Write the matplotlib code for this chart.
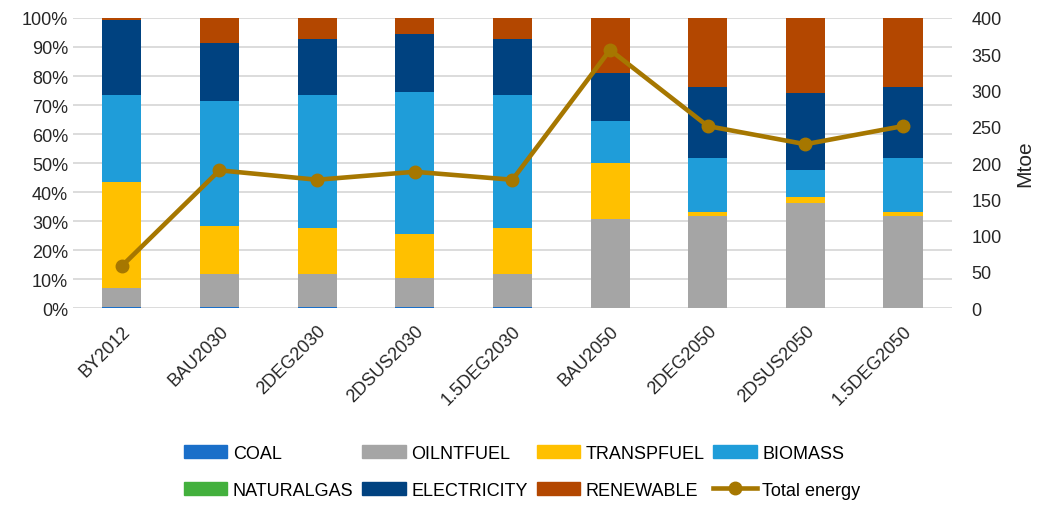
import matplotlib
matplotlib.use('Agg')
import numpy as np
import matplotlib.pyplot as plt
from matplotlib.lines import Line2D
from matplotlib.patches import Patch

scenarios = ["BY2012", "BAU2030", "2DEG2030", "2DSUS2030", "1.5DEG2030",
             "BAU2050", "2DEG2050", "2DSUS2050", "1.5DEG2050"]

# shares in % of total final energy
coal        = [0.4, 0.3, 0.3, 0.4, 0.3, 0.0, 0.0, 0.0, 0.0]
oilntfuel   = [6.5, 11.4, 11.5, 9.9, 11.5, 30.6, 31.7, 36.4, 31.7]
transpfuel  = [36.5, 16.6, 15.8, 15.2, 15.8, 19.4, 1.6, 1.8, 1.6]
biomass     = [29.9, 43.0, 45.7, 49.0, 45.7, 14.4, 18.4, 9.5, 18.4]
naturalgas  = [0.0, 0.0, 0.0, 0.0, 0.0, 0.0, 0.0, 0.0, 0.0]
electricity = [26.1, 20.0, 19.5, 19.9, 19.5, 16.7, 24.6, 26.6, 24.6]
renewable   = [0.6, 8.7, 7.2, 5.6, 7.2, 18.9, 23.7, 25.7, 23.7]

total_energy = [58, 190, 177, 188, 177, 356, 251, 226, 251]  # Mtoe

series = [
    ("COAL", coal, "#1a6fc9"),
    ("OILNTFUEL", oilntfuel, "#a5a5a5"),
    ("TRANSPFUEL", transpfuel, "#ffc000"),
    ("BIOMASS", biomass, "#1f9dd9"),
    ("NATURALGAS", naturalgas, "#43b03d"),
    ("ELECTRICITY", electricity, "#004280"),
    ("RENEWABLE", renewable, "#b34700"),
]
line_color = "#a67700"

plt.rcParams['font.family'] = ['Liberation Sans', 'DejaVu Sans']
plt.rcParams['font.size'] = 13

fig = plt.figure(figsize=(10.38, 5.06), dpi=100)
ax = fig.add_axes([0.0703, 0.389, 0.8467, 0.5735])

x = np.arange(len(scenarios))
bottom = np.zeros(len(scenarios))
for name, vals, col in series:
    vals = np.array(vals) / 100.0
    ax.bar(x, vals, 0.4, bottom=bottom, color=col, zorder=2)
    bottom += vals

ax.set_xlim(-0.5, len(scenarios) - 0.5)
ax.set_ylim(0, 1)
ax.set_yticks(np.arange(0, 1.01, 0.1))
ax.set_yticklabels(["%d%%" % v for v in range(0, 101, 10)])
ax.set_xticks(x)
ax.set_xticklabels(scenarios, rotation=45, ha='right', rotation_mode='anchor')
ax.tick_params(axis='both', length=0, labelsize=13, colors='#262626')
ax.tick_params(axis='x', pad=10)
ax.grid(axis='y', color='#d9d9d9', linewidth=1.3, zorder=0)
ax.set_axisbelow(True)
for s in ax.spines.values():
    s.set_visible(False)

ax2 = ax.twinx()
ax2.plot(x, total_energy, color=line_color, linewidth=3.3, marker='o',
         markersize=9, zorder=5)
ax2.set_ylim(0, 400)
ax2.set_yticks(np.arange(0, 401, 50))
ax2.tick_params(axis='y', length=0, labelsize=13, colors='#262626', pad=14)
ax2.set_ylabel("Mtoe", fontsize=15, labelpad=10, color='#262626')
for s in ax2.spines.values():
    s.set_visible(False)

handles = [Patch(color=col, label=name) for name, vals, col in series]
handles.append(Line2D([0], [0], color=line_color, linewidth=3.3, marker='o',
                      markersize=9, label="Total energy"))
order = [0, 4, 1, 5, 2, 6, 3, 7]
handles = [handles[i] for i in order]
fig.legend(handles=handles, ncol=4, loc='center', bbox_to_anchor=(0.503, 0.066),
           frameon=False, fontsize=13, handlelength=2.4, handleheight=0.7,
           columnspacing=0.5, labelspacing=1.1, handletextpad=0.3)

fig.savefig("out.png", dpi=100)
